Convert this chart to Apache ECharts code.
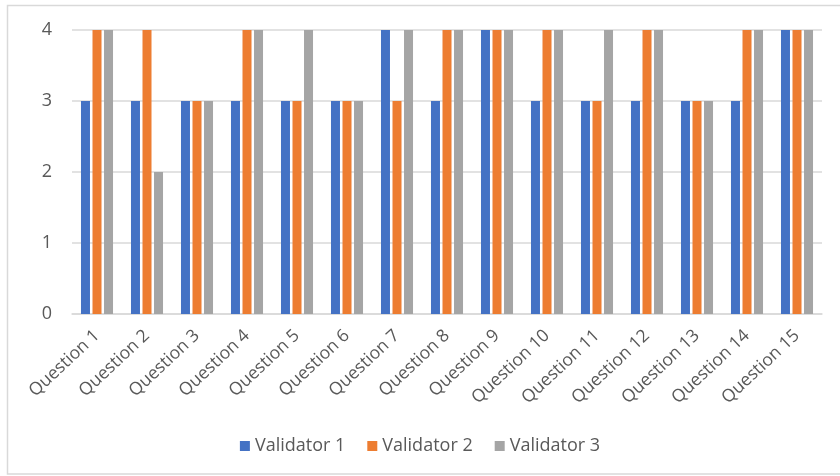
<!DOCTYPE html>
<html><head><meta charset="utf-8">
<script src="https://cdn.jsdelivr.net/npm/echarts@6/dist/echarts.min.js"></script>
<style>html,body{margin:0;padding:0;background:#fff}#c{width:840px;height:476px}</style>
</head><body><div id="c"></div>
<script>
const categories = ['Question 1','Question 2','Question 3','Question 4','Question 5','Question 6','Question 7','Question 8','Question 9','Question 10','Question 11','Question 12','Question 13','Question 14','Question 15'];
const validator1 = [3,3,3,3,3,3,4,3,4,3,3,3,3,3,4];
const validator2 = [4,4,3,4,3,3,3,4,4,4,3,4,3,4,4];
const validator3 = [4,2,3,4,4,3,4,4,4,4,4,4,3,4,4];
const seriesNames = ['Validator 1','Validator 2','Validator 3'];
const colors = ['#4472C4','#ED7D31','#A5A5A5'];
const font = '"Open Sans", "Noto Sans", sans-serif';
const chart = echarts.init(document.getElementById('c'));
const mk = (name, data, color) => ({
  name, type: 'bar', data, barWidth: 9, barGap: '28%',
  itemStyle: { color }
});
chart.setOption({
  animation: false,
  graphic: [{ type: 'rect', shape: { x: 7.5, y: 5.5, width: 840, height: 468.5 }, style: { fill: 'none', stroke: '#d9d9d9', lineWidth: 1.5 } }],
  grid: { left: 72, right: 18, top: 30, bottom: 162 },
  legend: {
    top: 432, left: 'center', itemWidth: 10, itemHeight: 10, itemGap: 22,
    icon: 'rect',
    textStyle: { color: '#595959', fontSize: 18, fontFamily: font },
    data: seriesNames
  },
  xAxis: {
    type: 'category', data: categories,
    axisLine: { lineStyle: { color: '#d9d9d9', width: 1.5 } },
    axisTick: { show: false },
    axisLabel: { rotate: 43, color: '#595959', fontSize: 17.5, fontFamily: font, margin: 19, interval: 0 }
  },
  yAxis: {
    type: 'value', min: 0, max: 4, interval: 1,
    axisLine: { show: false }, axisTick: { show: false },
    splitLine: { lineStyle: { color: '#d9d9d9', width: 1.5 } },
    axisLabel: { color: '#595959', fontSize: 18, fontFamily: font, margin: 20 }
  },
  series: [
    mk(seriesNames[0], validator1, colors[0]),
    mk(seriesNames[1], validator2, colors[1]),
    mk(seriesNames[2], validator3, colors[2])
  ]
});
</script></body></html>
